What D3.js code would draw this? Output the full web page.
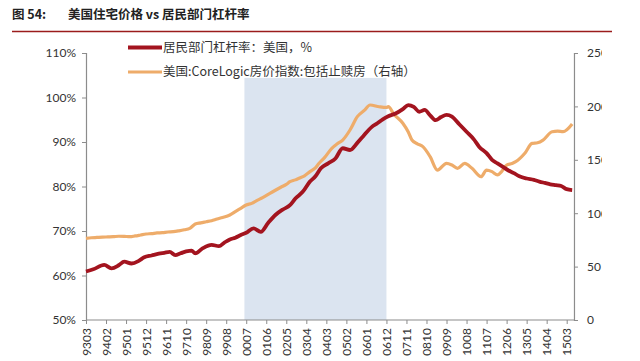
<!DOCTYPE html>
<html><head><meta charset="utf-8">
<script src="https://cdn.jsdelivr.net/npm/d3@7/dist/d3.min.js"></script>
<style>
html,body{margin:0;padding:0;background:#fff;}
svg{display:block;}
</style></head>
<body>
<svg id="chart" width="640" height="361"></svg>
<script>
// ---- data ----
const titleNo = "图 54:";
const titleText = "美国住宅价格 vs 居民部门杠杆率";
const seriesNames = ["居民部门杠杆率：美国，%", "美国:CoreLogic房价指数:包括止赎房（右轴）"];
const xTickLabels = ["9303","9402","9501","9512","9611","9710","9809","9908","0007","0106","0205","0304","0403","0502","0601","0612","0711","0810","0909","1008","1107","1206","1305","1404","1503"];
const leftTicks = [50,60,70,80,90,100,110];
const rightTicks = [0,50,100,150,200,250];
const shadePeriod = ["0006","0612"];
const shadeTopValue = 104.4;

const leverageDates = ["9303","9307","9401","9405","9409","9412","9504","9508","9511","9603","9607","9610","9701","9704","9707","9710","9801","9803","9807","9812","9904","9907","9910","0001","0004","0007","0011","0103","0107","0111","0203","0207","0210","0302","0306","0309","0312","0404","0408","0412","0504","0508","0511","0604","0607","0610","0701","0705","0709","0712","0803","0806","0809","0812","0903","0906","0909","0912","1004","1008","1012","1103","1107","1110","1201","1204","1207","1210","1301","1305","1309","1312","1403","1406","1409","1412","1503","1506"];
const leverageValues = [60.9,61.4,62.4,61.6,62.3,63.1,62.7,63.3,64.1,64.5,64.9,65.1,65.3,64.6,65.0,65.4,65.6,65.0,66.1,66.9,66.6,67.4,68.1,68.5,69.1,69.6,70.6,69.8,71.8,73.6,74.8,75.8,77.3,78.8,81.1,82.3,84.1,85.2,86.3,88.6,88.2,89.8,91.2,93.4,94.2,95.1,95.8,96.4,97.4,98.3,97.9,96.8,97.2,96.0,94.9,95.6,96.1,95.7,94.0,92.3,90.6,88.9,87.5,86.0,85.2,84.4,83.6,83.0,82.3,81.8,81.5,81.1,80.8,80.5,80.3,80.1,79.4,79.2];

const hpiDates = ["9303","9306","9309","9312","9403","9406","9409","9412","9503","9506","9509","9512","9603","9606","9609","9612","9703","9706","9709","9712","9803","9806","9809","9812","9903","9906","9910","0001","0004","0007","0010","0101","0104","0108","0111","0202","0205","0207","0210","0212","0303","0306","0309","0311","0402","0406","0409","0412","0504","0508","0512","0603","0608","0612","0701","0704","0709","0712","0802","0805","0808","0812","0904","0909","0912","1003","1007","1011","1104","1107","1110","1201","1203","1206","1209","1211","1304","1308","1311","1402","1407","1410","1501","1506"];
const hpiValues = [76.5,77.0,77.3,77.6,77.8,78.0,78.4,78.3,78.0,78.7,79.6,80.5,80.9,81.5,81.8,82.4,82.7,83.5,84.5,85.8,89.9,91.0,92.0,93.0,94.6,96.0,98.3,101.5,104.6,107.7,109.2,112.0,114.5,118.6,121.5,124.3,127.0,129.5,131.2,132.7,135.0,138.9,142.5,146.7,152.0,160.8,165.0,168.5,177.9,190.4,196.5,201.3,199.7,199.0,199.7,192.9,184.2,176.0,168.5,165.0,162.3,152.9,140.4,146.7,145.1,142.0,146.7,142.0,134.2,140.4,138.9,135.8,138.5,145.1,146.5,148.2,156.1,165.4,166.0,168.5,176.3,176.8,176.3,183.5];

// ---- helpers ----
function monthIndex(lbl){
  const yy = +lbl.slice(0,2), mm = +lbl.slice(2,4);
  const year = yy >= 90 ? 1900 + yy : 2000 + yy;
  return (year - 1993) * 12 + (mm - 3);
}

const svg = d3.select("#chart");
const x = d3.scaleLinear().domain([0, 264]).range([86, 566.7]);
const xEnd = 268;
const yL = d3.scaleLinear().domain([50, 110]).range([320, 53]);
const yR = d3.scaleLinear().domain([0, 250]).range([320, 53]);

const cjk = "'Noto Sans CJK SC', 'Noto Sans', sans-serif";
const latin = "Lato, 'Noto Sans CJK SC', sans-serif";

// title
svg.append("text").attr("x", 12).attr("y", 19)
  .attr("font-family", cjk).attr("font-weight", "bold").attr("font-size", 12.5)
  .attr("fill", "#222").text(titleNo);
svg.append("text").attr("x", 68).attr("y", 19)
  .attr("font-family", cjk).attr("font-weight", "bold").attr("font-size", 12.5)
  .attr("fill", "#222").text(titleText);
svg.append("line").attr("x1", 12).attr("x2", 612).attr("y1", 31.5).attr("y2", 31.5)
  .attr("stroke", "#9b1c1c").attr("stroke-width", 1.5);

// clip for the pasted chart image
svg.append("clipPath").attr("id", "imgclip").append("rect")
  .attr("x", 0).attr("y", 34).attr("width", 602).attr("height", 327);
const g = svg.append("g").attr("clip-path", "url(#imgclip)");

// shade
g.append("rect")
  .attr("x", x(monthIndex(shadePeriod[0])))
  .attr("width", x(monthIndex(shadePeriod[1])) - x(monthIndex(shadePeriod[0])))
  .attr("y", yL(shadeTopValue))
  .attr("height", yL(50) - yL(shadeTopValue))
  .attr("fill", "#dbe4f0");

// axes
const axisColor = "#8c8c8c";
const leftAxis = g.append("g").attr("transform", "translate(86,0)")
  .call(d3.axisLeft(yL).tickValues(leftTicks).tickSize(4).tickPadding(6).tickFormat(d => d + "%"));
const rightAxis = g.append("g").attr("transform", `translate(${x(xEnd)},0)`)
  .call(d3.axisRight(yR).tickValues(rightTicks).tickSize(4).tickPadding(9));
const bottomAxis = g.append("g").attr("transform", "translate(0,320)")
  .call(d3.axisBottom(x).tickValues(xTickLabels.map(monthIndex)).tickSize(4)
    .tickFormat((d, i) => xTickLabels[i]));
g.append("line").attr("x1", 86).attr("x2", x(xEnd)).attr("y1", 320).attr("y2", 320)
  .attr("stroke", axisColor).attr("stroke-width", 1.2);

[leftAxis, rightAxis, bottomAxis].forEach(a => {
  a.select(".domain").attr("stroke", axisColor).attr("stroke-width", 1.2);
  a.selectAll(".tick line").attr("stroke", axisColor).attr("stroke-width", 1);
  a.selectAll("text").attr("font-family", latin).attr("font-size", 12).attr("fill", "#333");
});
bottomAxis.select(".domain").remove();
bottomAxis.selectAll("text")
  .attr("transform", "rotate(-90)")
  .attr("text-anchor", "end")
  .attr("x", -8).attr("y", 0).attr("dy", "0.35em")
  .attr("font-size", 12);

// lines
const lineL = d3.line()
  .x(d => x(monthIndex(d[0]))).y(d => yL(d[1])).curve(d3.curveMonotoneX);
const lineR = d3.line()
  .x(d => x(monthIndex(d[0]))).y(d => yR(d[1])).curve(d3.curveMonotoneX);

const levData = leverageDates.map((d, i) => [d, leverageValues[i]]);
const hpiData = hpiDates.map((d, i) => [d, hpiValues[i]]);

g.append("path").datum(hpiData).attr("d", lineR)
  .attr("fill", "none").attr("stroke", "#eeac6a").attr("stroke-width", 3.2).attr("stroke-linejoin", "round");
g.append("path").datum(levData).attr("d", lineL)
  .attr("fill", "none").attr("stroke", "#a3141f").attr("stroke-width", 3.8).attr("stroke-linejoin", "round");

// legend
const legendColors = ["#a3141f", "#eeac6a"];
const legendY = [47.5, 72];
seriesNames.forEach((name, i) => {
  g.append("line").attr("x1", 128).attr("x2", 162).attr("y1", legendY[i]).attr("y2", legendY[i])
    .attr("stroke", legendColors[i]).attr("stroke-width", i === 0 ? 3.8 : 3.2);
  g.append("text").attr("x", 163).attr("y", legendY[i]).attr("dy", "0.35em")
    .attr("font-family", cjk).attr("font-size", 12.5).attr("fill", "#333").text(name);
});
</script>
</body></html>
